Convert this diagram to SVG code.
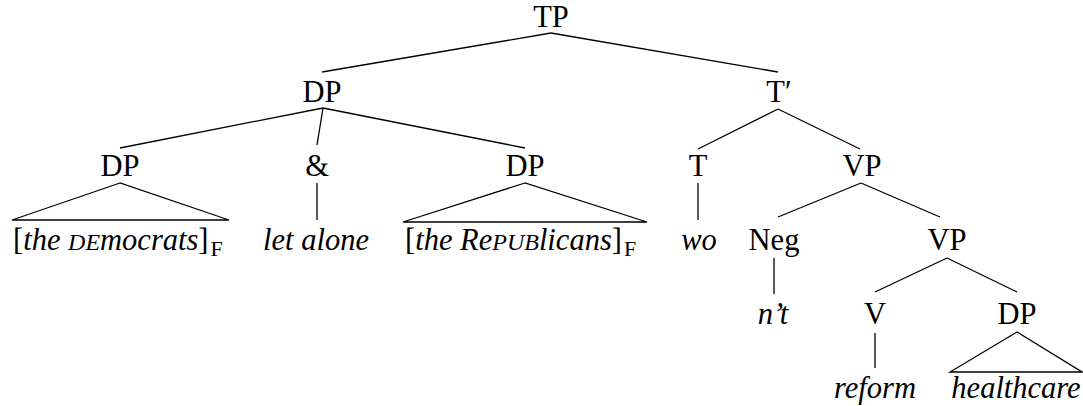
<svg xmlns="http://www.w3.org/2000/svg" width="1083" height="406" viewBox="0 0 1083 406">
<style>
text{font-size:30.5px;fill:#000}
.c{text-anchor:middle}
.i{font-style:italic}
.sc{font-size:24px}
.sub{font-size:22px;font-style:normal}
.r{font-style:normal}
#edges line,.tri{stroke:#000;stroke-width:1.3;fill:none}
</style>
<rect width="1083" height="406" fill="#fff"/>
<g id="edges">
<line x1="551" y1="33" x2="322" y2="72"/>
<line x1="551" y1="33" x2="778" y2="72"/>
<line x1="323" y1="108" x2="120" y2="148"/>
<line x1="323" y1="108" x2="317" y2="145"/>
<line x1="323" y1="108" x2="525" y2="148"/>
<line x1="317" y1="183" x2="317" y2="220"/>
<line x1="778" y1="109" x2="698" y2="149"/>
<line x1="778" y1="109" x2="860" y2="149"/>
<line x1="698" y1="183" x2="698" y2="220"/>
<line x1="861" y1="183" x2="778" y2="217"/>
<line x1="861" y1="183" x2="940" y2="217"/>
<line x1="774" y1="258" x2="774" y2="294"/>
<line x1="947" y1="258" x2="875" y2="292"/>
<line x1="947" y1="258" x2="1017" y2="292"/>
<line x1="875" y1="333" x2="875" y2="368"/>
</g>
<g font-family="'Liberation Serif', 'Times New Roman', Times, serif">
<g id="TP"><text class="c" x="551" y="27">TP</text></g>
<g id="DP1"><text class="c" x="322" y="102">DP</text></g>
<g id="Tbar"><text class="c" x="779" y="102">T′</text></g>
<g id="DP2"><text class="c" x="120" y="176">DP</text>
<polygon class="tri" points="120,183 12,220 229,220"/>
<text x="13" y="250"><tspan class="r">[</tspan><tspan class="i">the </tspan><tspan class="i sc">DE</tspan><tspan class="i">mocrats</tspan><tspan class="r">]</tspan><tspan class="sub" dx="2" dy="6">F</tspan></text></g>
<g id="amp"><text class="c" x="317" y="176">&amp;</text></g>
<g id="letalone"><text class="c i" x="316" y="250">let alone</text></g>
<g id="DP3"><text class="c" x="525" y="176">DP</text>
<polygon class="tri" points="525,183 403,222 647,222"/>
<text x="405" y="250"><tspan class="r">[</tspan><tspan class="i">the Re</tspan><tspan class="i sc" font-size="26">PUB</tspan><tspan class="i">licans</tspan><tspan class="r">]</tspan><tspan class="sub" dx="2" dy="6">F</tspan></text></g>
<g id="T"><text class="c" x="698" y="176">T</text></g>
<g id="wo"><text class="c i" x="699" y="250">wo</text></g>
<g id="VP1"><text class="c" x="862" y="176">VP</text></g>
<g id="Neg"><text class="c" x="774" y="250">Neg</text></g>
<g id="nt"><text class="c i" x="773" y="324">n’t</text></g>
<g id="VP2"><text class="c" x="947" y="250">VP</text></g>
<g id="V"><text class="c" x="875" y="324">V</text></g>
<g id="reform"><text class="c i" x="875" y="398">reform</text></g>
<g id="DP4"><text class="c" x="1017" y="324">DP</text>
<polygon class="tri" points="1017,332 950,372 1082,372"/>
<text class="c i" x="1016" y="398">healthcare</text></g>
</g>
</svg>
